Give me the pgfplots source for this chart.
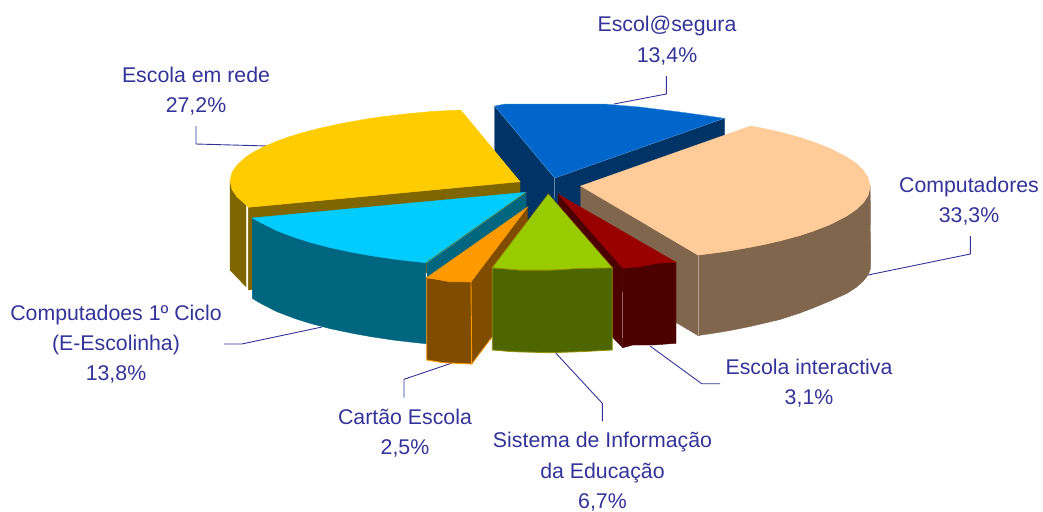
\documentclass[border=0pt]{standalone}
\usepackage{fontspec}
\setmainfont{Liberation Sans}
\usepackage{pgfplots}
\pgfplotsset{compat=1.18}
\definecolor{lbl}{HTML}{333399}
\definecolor{blueT}{HTML}{0066CC}
\definecolor{blueS}{HTML}{003366}
\definecolor{peachT}{HTML}{FFCC99}
\definecolor{peachS}{HTML}{80664D}
\definecolor{yelT}{HTML}{FFCC00}
\definecolor{yelS}{HTML}{806600}
\definecolor{cyanT}{HTML}{00CCFF}
\definecolor{cyanS}{HTML}{006680}
\definecolor{oraT}{HTML}{FF9900}
\definecolor{oraS}{HTML}{804D00}
\definecolor{greT}{HTML}{99CC00}
\definecolor{greS}{HTML}{4D6600}
\definecolor{redT}{HTML}{990000}
\definecolor{redS}{HTML}{4D0000}
\tikzset{lab/.style={anchor=base,text=lbl,inner sep=0pt,font=\fontsize{21.3}{25}\selectfont},
  leader/.style={draw=lbl,line width=0.9pt}}
\begin{document}
\begin{tikzpicture}[x=1pt,y=1pt]
\begin{axis}[anchor=south west,at={(0pt,0pt)},scale only axis,width=1043pt,height=510pt,
  xmin=0,xmax=1043,ymin=0,ymax=510,y dir=reverse,hide axis,clip=false,no markers]
% leaders, behind the slices
\addplot[leader] coordinates {(666.3,76) (666.3,94) (614,104)};
\addplot[leader] coordinates {(196,126) (196,144) (268,146)};
\addplot[leader] coordinates {(970.3,236) (970.3,254) (868,275)};
\addplot[leader] coordinates {(224,344) (241.7,344) (322,327)};
\addplot[leader] coordinates {(404,397.7) (404,379.3) (452,363)};
\addplot[leader] coordinates {(602.3,421.3) (602.3,403.3) (553,350)};
\addplot[leader] coordinates {(720,383.7) (701.7,383.7) (650,346)};
% Escol@segura
\addplot[fill=blueS,draw=blueS] coordinates {(494.7,106) (554.7,178) (554.7,258) (494.7,186)} --cycle;
\addplot[fill=blueS,draw=blueS] coordinates {(554.7,178) (724.3,118.3) (724.3,198) (554.7,258)} --cycle;
\addplot[fill=blueT,draw=blueT!70!white,line width=0.4pt] coordinates {(494.7,106) (505,104) (605,104) (622,105.5) (640,107) (660,109.5) (680,112) (702,115) (724.3,118.3) (554.7,178)} --cycle;
\addplot[draw=blueS!60!white,line width=0.5pt] coordinates {(554.7,178) (554.7,198)};
% Escola em rede
\addplot[fill=yelS,draw=yelS] coordinates {(230,181) (232,189.5) (237,196.8) (246,205) (246,286.7) (230,270)} --cycle;
\addplot[fill=yelS,draw=yelS] coordinates {(248.3,207.3) (520,181.7) (520,262) (248.3,290)} --cycle;
\addplot[fill=yelT,draw=yelT] coordinates {(520,181.7) (460.7,110) (433,111.4) (406.7,113.8) (380,117) (366.7,119) (340,123.8) (320,128.2) (303,132.6) (290,136.5) (276.7,141.3) (265,146.2) (253.3,152.2) (245,157.7) (237,165.2) (232,172.5) (230,181) (232,189.5) (237,196.8) (246,204.8) (248.3,207.3)} --cycle;
% Computadores
\addplot[fill=peachS,draw=peachS] coordinates {(580.7,186) (698.3,255.7) (698.3,335.7) (580.7,266)} --cycle;
\addplot[fill=peachS,draw=peachS] coordinates {(698.3,255.1) (730,250.8) (765,244.3) (800,235.5) (830,224.6) (856,209.7) (868,195.7) (870.2,186.5) (870.7,268) (868,275) (863.3,281) (856,287.5) (846.7,293.5) (830,301) (813,308) (800,313) (780,319.5) (750,326.5) (730,330.5) (715,333) (698.3,335.5)} --cycle;
\addplot[fill=peachT,draw=peachT] coordinates {(580.7,186) (750.7,126) (765,128.7) (780,132.1) (800,137.5) (813,141.8) (830,148.4) (846.7,157) (856,163.3) (863.3,170.2) (868,177.3) (870.2,186.5) (868,195.7) (863.3,202.8) (856,209.7) (846.7,216) (830,224.6) (813,231.2) (800,235.5) (780,240.9) (765,244.3) (750,247.3) (730,250.8) (715,252.9) (698.3,255.1)} --cycle;
\addplot[draw=peachS!60!white,line width=0.6pt] coordinates {(698.3,256) (698.3,335)};
% Computadoes 1o Ciclo
\addplot[fill=cyanS,draw=cyanS] coordinates {(526,192.3) (426.7,262.3) (426.7,343) (526,273)} --cycle;
\addplot[fill=cyanS,draw=cyanS] coordinates {(252.3,218) (260,222.2) (276.7,230.6) (295,237.6) (310,242.3) (330,247.6) (353.3,252.5) (373,256) (393.3,259) (410,261) (426.7,262.8) (426.7,343.8) (410,342) (393.3,340) (373,337) (353.3,333.5) (330,328.6) (310,323.3) (295,318.6) (276.7,311.6) (260,303) (252.3,298.3)} --cycle;
\addplot[fill=cyanT,draw=cyanT] coordinates {(526,192.3) (252.3,218) (260,222.2) (276.7,230.6) (295,237.6) (310,242.3) (330,247.6) (353.3,252.5) (373,256) (393.3,259) (410,261) (426.7,262.8)} --cycle;
\addplot[draw=yelS,line width=0.5pt] coordinates {(526,192.3) (426.7,262.3) (426.7,274)};
\addplot[draw=white,line width=1pt] coordinates {(426.7,273) (426.7,277)};
% Cartao Escola
\addplot[fill=oraS,draw=oraS] coordinates {(527.3,207.3) (471,281.7) (471.7,364) (527.3,290)} --cycle;
\addplot[fill=oraS,draw=oraT,line width=0.9pt] coordinates {(426.7,277.7) (471,281.7) (471.7,364) (443.3,362.7) (426.7,360)} --cycle;
\addplot[fill=oraT,draw=oraT,line width=0.6pt] coordinates {(527.3,207.3) (471,281.7) (450,281.7) (436.7,279.3) (426.7,277.7)} --cycle;
\addplot[draw=oraT,line width=0.7pt] coordinates {(471.7,364) (491.7,337.4)};
% Escola interactiva
\addplot[fill=redS,draw=redS] coordinates {(558.3,194.3) (622.7,268) (622.7,347.7) (613.3,338) (558.3,274)} --cycle;
\addplot[fill=redS,draw=redS] coordinates {(622.7,268) (640,266.7) (656.7,263.3) (676,262.3) (676,343.3) (653.3,345) (633,345) (622.7,347.7)} --cycle;
\addplot[fill=redT,draw=redT] coordinates {(558.3,194.3) (676,262.3) (656.7,263.3) (640,266.7) (622.7,268)} --cycle;
\addplot[draw=redS!60!white,line width=0.5pt] coordinates {(622.3,292) (622.3,338)};
% Sistema de Informacao
\addplot[fill=greS,draw=olive!90!yellow,line width=0.8pt] coordinates {(492.3,267.7) (520,270) (550,270) (580,268.3) (612.3,267.7) (612.3,350) (580,351.7) (550,352.7) (513,351.7) (492.3,350)} --cycle;
\addplot[fill=greT,draw=olive!90!yellow,line width=0.6pt] coordinates {(548.3,194) (612.3,267.7) (580,268.3) (550,270) (520,270) (492.3,267.7)} --cycle;
% labels
\node[lab] at (axis cs:667,31.7) {Escol@segura};
\node[lab] at (axis cs:667,62.7) {13,4\%};
\node[lab] at (axis cs:196,82.3) {Escola em rede};
\node[lab] at (axis cs:196,112.3) {27,2\%};
\node[lab] at (axis cs:969,192.3) {Computadores};
\node[lab] at (axis cs:969,222.3) {33,3\%};
\node[lab] at (axis cs:116,320) {Computadoes 1º Ciclo};
\node[lab] at (axis cs:116,350) {(E-Escolinha)};
\node[lab] at (axis cs:116,380) {13,8\%};
\node[lab] at (axis cs:405,424) {Cartão Escola};
\node[lab] at (axis cs:405,454.3) {2,5\%};
\node[lab] at (axis cs:602.5,447.7) {Sistema de Informação};
\node[lab] at (axis cs:602.5,478.3) {da Educação};
\node[lab] at (axis cs:602.5,508.3) {6,7\%};
\node[lab] at (axis cs:809,374.3) {Escola interactiva};
\node[lab] at (axis cs:809,404.3) {3,1\%};
\end{axis}
\path[use as bounding box] (0pt,0pt) rectangle (1043pt,510pt);
\end{tikzpicture}
\end{document}
